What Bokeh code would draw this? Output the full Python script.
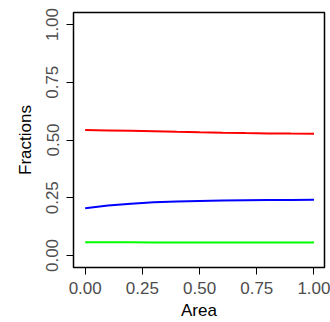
from bokeh.plotting import figure
from bokeh.models import Range1d, FixedTicker
from bokeh.embed import file_html
from bokeh.resources import INLINE

area = [0.0, 0.1, 0.2, 0.3, 0.4, 0.5, 0.6, 0.7, 0.8, 0.9, 1.0]
red_frac = [0.5430, 0.5416, 0.5400, 0.5380, 0.5355, 0.5332, 0.5313, 0.5298, 0.5286, 0.5277, 0.5270]
blue_frac = [0.2050, 0.2165, 0.2245, 0.2300, 0.2338, 0.2362, 0.2378, 0.2390, 0.2398, 0.2404, 0.2408]
green_frac = [0.0570, 0.0569, 0.0568, 0.0567, 0.0566, 0.0565, 0.0564, 0.0563, 0.0562, 0.0561, 0.0560]
ticks = [0.0, 0.25, 0.5, 0.75, 1.0]
tick_labels = {0.0: "0.00", 0.25: "0.25", 0.5: "0.50", 0.75: "0.75", 1.0: "1.00"}

p = figure(width=330, height=322, output_backend="svg", toolbar_location=None,
           x_range=Range1d(-0.051, 1.046), y_range=Range1d(-0.052, 1.052),
           min_border_left=73, min_border_right=6, min_border_top=12, min_border_bottom=55)
p.grid.visible = False
p.outline_line_color = "black"
p.outline_line_width = 1.5
p.background_fill_color = "white"
p.border_fill_color = "white"

for line_y, col in [(red_frac, "#FF0000"), (blue_frac, "#0000FF"), (green_frac, "#00FF00")]:
    p.line(area, line_y, line_color=col, line_width=2)

for ax in (p.xaxis[0], p.yaxis[0]):
    ax.ticker = FixedTicker(ticks=ticks)
    ax.major_label_overrides = tick_labels
    ax.minor_tick_line_color = None
    ax.major_tick_in = 0
    ax.major_tick_out = 7
    ax.major_tick_line_color = "black"
    ax.major_tick_line_width = 1
    ax.axis_line_color = None
    ax.major_label_text_font = "Liberation Sans"
    ax.major_label_text_font_size = "17px"
    ax.major_label_text_color = "#4d4d4d"
    ax.axis_label_text_font = "Liberation Sans"
    ax.axis_label_text_font_size = "17px"
    ax.axis_label_text_font_style = "normal"
    ax.axis_label_text_color = "black"

p.xaxis.axis_label = "Area"
p.yaxis.axis_label = "Fractions"
p.yaxis.major_label_orientation = "vertical"
p.xaxis.major_label_standoff = 7
p.yaxis.major_label_standoff = 8
p.xaxis.axis_label_standoff = 4
p.yaxis.axis_label_standoff = 9

open("out.html", "w").write(file_html(p, INLINE))
